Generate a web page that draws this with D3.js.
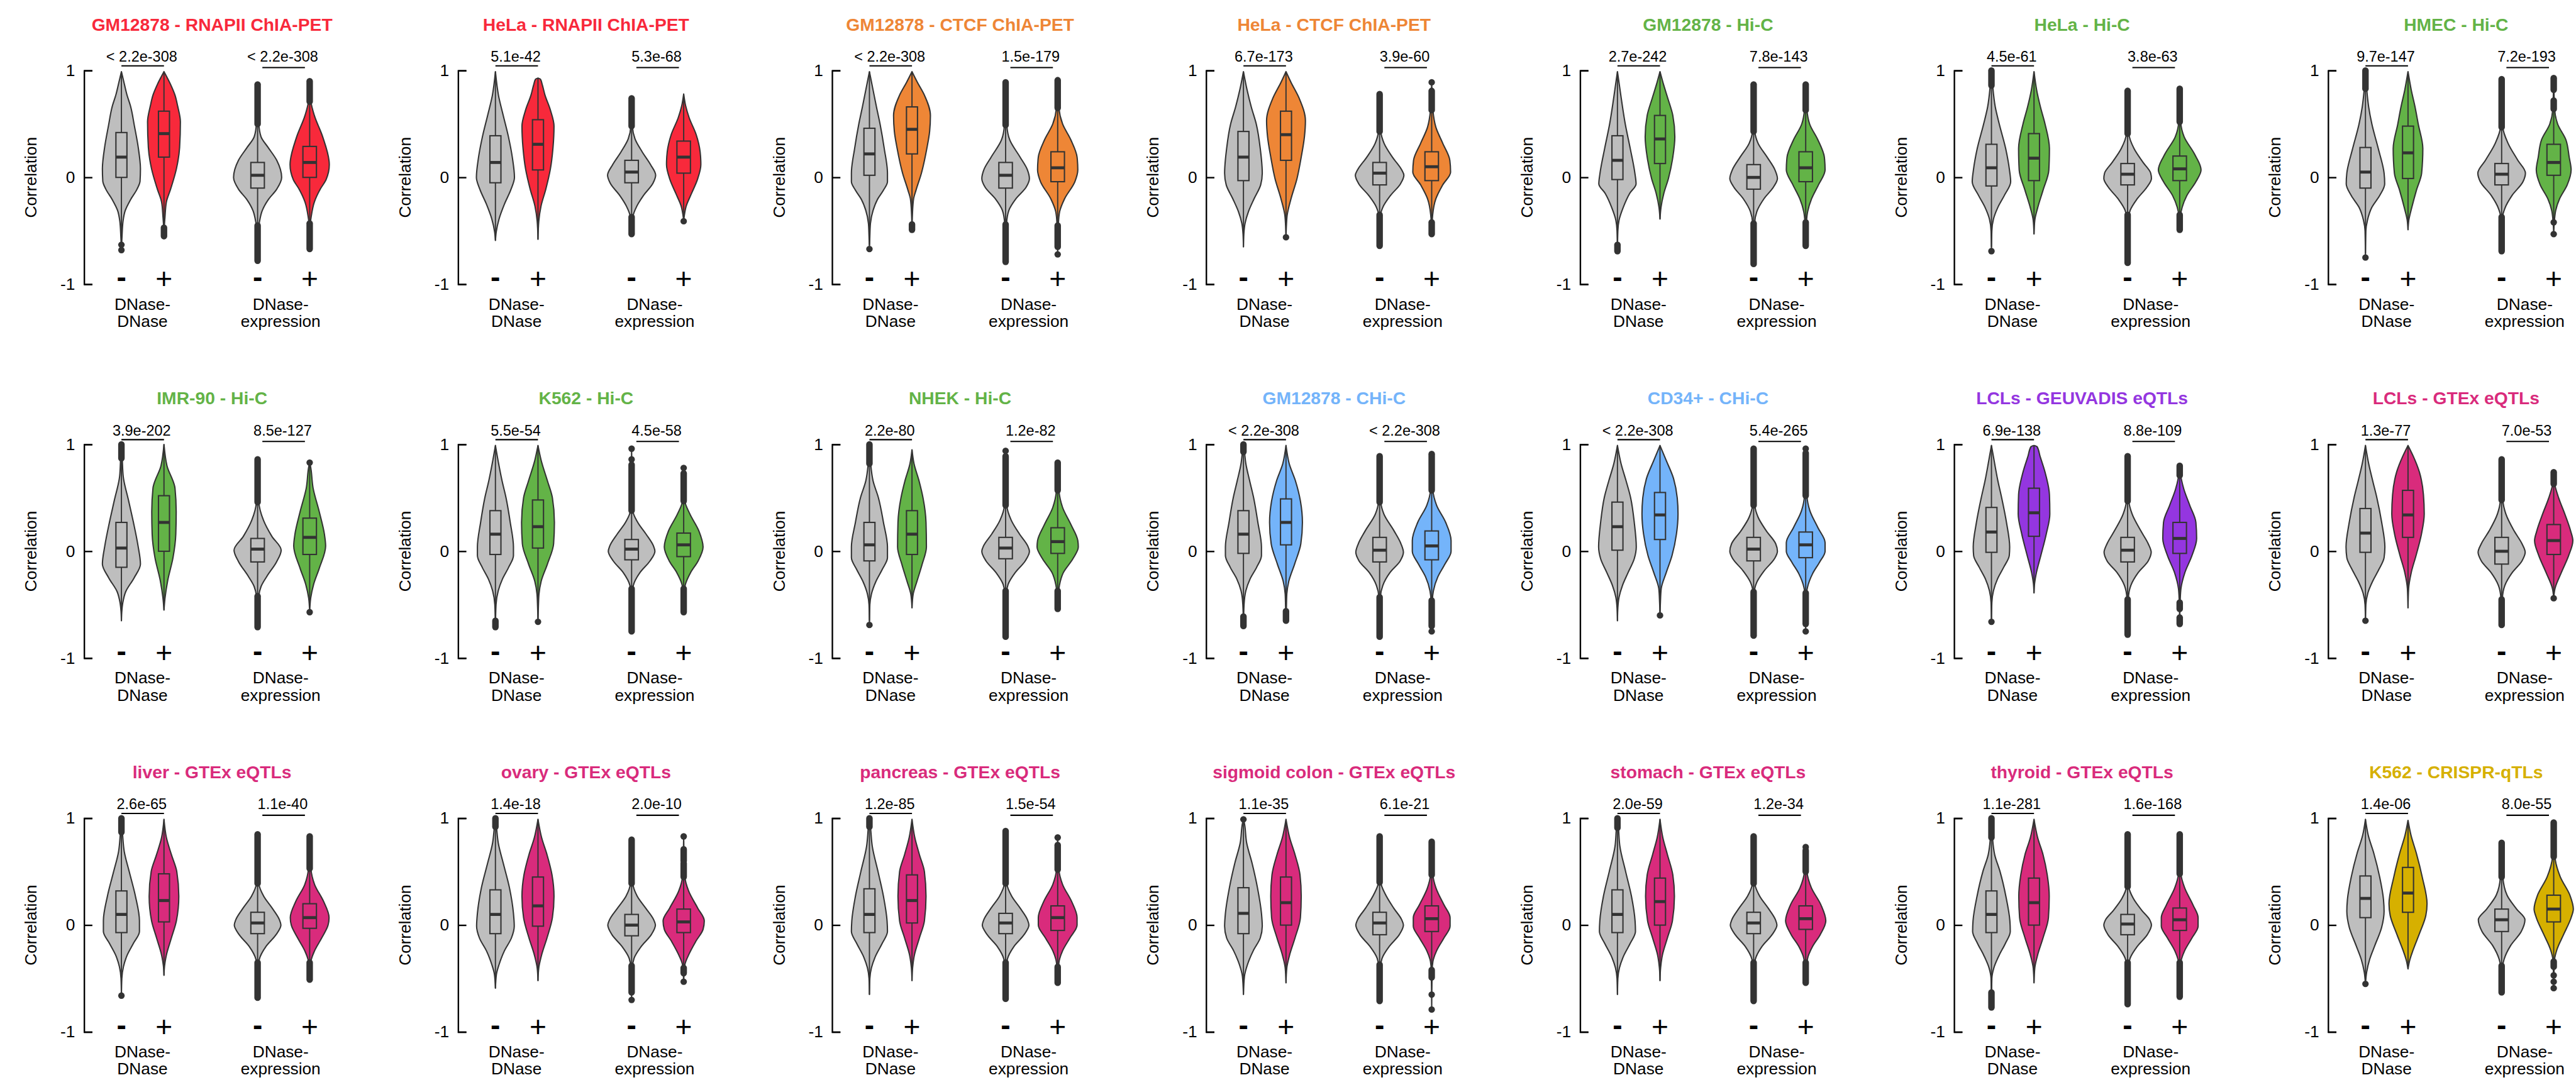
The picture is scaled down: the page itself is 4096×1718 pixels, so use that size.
<!DOCTYPE html>
<html>
<head>
<meta charset="utf-8">
<script src="https://cdn.jsdelivr.net/npm/d3@7"></script>
<style>
  html, body { margin: 0; padding: 0; background: #ffffff; }
  svg { display: block; }
  text { font-family: "Liberation Sans", Arial, Helvetica, sans-serif; }
</style>
</head>
<body>
<svg id="chart" width="4096" height="1718" viewBox="0 0 5144 2158"></svg>
<script>
// ---------------------------------------------------------------------------
// Data
// ---------------------------------------------------------------------------
const panelTitles = [
  "GM12878 - RNAPII ChIA-PET", "HeLa - RNAPII ChIA-PET", "GM12878 - CTCF ChIA-PET",
  "HeLa - CTCF ChIA-PET", "GM12878 - Hi-C", "HeLa - Hi-C", "HMEC - Hi-C",
  "IMR-90 - Hi-C", "K562 - Hi-C", "NHEK - Hi-C", "GM12878 - CHi-C", "CD34+ - CHi-C",
  "LCLs - GEUVADIS eQTLs", "LCLs - GTEx eQTLs",
  "liver - GTEx eQTLs", "ovary - GTEx eQTLs", "pancreas - GTEx eQTLs",
  "sigmoid colon - GTEx eQTLs", "stomach - GTEx eQTLs", "thyroid - GTEx eQTLs",
  "K562 - CRISPR-qTLs"
];
const panelAssay = [
  "rnapii", "rnapii", "ctcf", "ctcf", "hic", "hic", "hic",
  "hic", "hic", "hic", "chic", "chic", "geuvadis", "gtex",
  "gtex", "gtex", "gtex", "gtex", "gtex", "gtex", "crispr"
];
const pairGroups = ["DNase-DNase", "DNase-expression"];
const groupLabelLines = [["DNase-", "DNase"], ["DNase-", "expression"]];
const linkStates = ["-", "+"];
const yTicks = [-1, 0, 1];

const pValueDD = ["< 2.2e-308", "5.1e-42", "< 2.2e-308", "6.7e-173", "2.7e-242", "4.5e-61", "9.7e-147",
  "3.9e-202", "5.5e-54", "2.2e-80", "< 2.2e-308", "< 2.2e-308", "6.9e-138", "1.3e-77",
  "2.6e-65", "1.4e-18", "1.2e-85", "1.1e-35", "2.0e-59", "1.1e-281", "1.4e-06"];
const pValueDE = ["< 2.2e-308", "5.3e-68", "1.5e-179", "3.9e-60", "7.8e-143", "3.8e-63", "7.2e-193",
  "8.5e-127", "4.5e-58", "1.2e-82", "< 2.2e-308", "5.4e-265", "8.8e-109", "7.0e-53",
  "1.1e-40", "2.0e-10", "1.5e-54", "6.1e-21", "1.2e-34", "1.6e-168", "8.0e-55"];

// Violin profiles: [correlation, relative density], from the top tip to the bottom tip.
const densityDDneg = [
  [[0.99,0],[0.87,0.15],[0.77,0.28],[0.67,0.45],[0.48,0.65],[0.28,0.84],[0.08,0.95],[-0.035,0.93],[-0.11,0.78],[-0.21,0.45],[-0.31,0.19],[-0.41,0.08],[-0.55,0.03],[-0.68,0]],
  [[0.99,0],[0.77,0.15],[0.58,0.39],[0.38,0.65],[0.18,0.85],[0,0.95],[-0.11,0.78],[-0.25,0.45],[-0.39,0.18],[-0.51,0.04],[-0.59,0]],
  [[0.99,0],[0.82,0.18],[0.66,0.35],[0.5,0.53],[0.27,0.74],[0.04,0.9],[-0.04,0.9],[-0.12,0.7],[-0.21,0.39],[-0.31,0.18],[-0.43,0.05],[-0.55,0.02],[-0.67,0]],
  [[0.99,0],[0.82,0.18],[0.66,0.39],[0.5,0.64],[0.27,0.84],[0.04,0.94],[-0.07,0.86],[-0.2,0.53],[-0.32,0.25],[-0.43,0.08],[-0.53,0.02],[-0.65,0]],
  [[0.99,0],[0.74,0.19],[0.5,0.39],[0.27,0.64],[0.04,0.87],[-0.06,0.93],[-0.15,0.61],[-0.28,0.29],[-0.4,0.08],[-0.5,0.02],[-0.69,0]],
  [[1,0],[0.86,0.06],[0.66,0.19],[0.5,0.39],[0.27,0.71],[0.07,0.9],[-0.04,0.96],[-0.17,0.64],[-0.28,0.32],[-0.39,0.1],[-0.5,0.02],[-0.69,0]],
  [[1,0],[0.83,0.06],[0.66,0.16],[0.5,0.32],[0.27,0.64],[0.04,0.93],[-0.06,0.96],[-0.17,0.71],[-0.28,0.32],[-0.4,0.1],[-0.5,0.02],[-0.75,0]],
  [[1,0],[0.87,0.04],[0.7,0.09],[0.48,0.35],[0.27,0.6],[0.05,0.83],[-0.12,0.95],[-0.25,0.63],[-0.38,0.21],[-0.48,0.07],[-0.56,0.02],[-0.65,0]],
  [[0.99,0],[0.82,0.16],[0.66,0.33],[0.5,0.53],[0.27,0.74],[0.04,0.9],[-0.04,0.9],[-0.15,0.66],[-0.26,0.35],[-0.37,0.14],[-0.5,0.03],[-0.71,0]],
  [[1,0],[0.82,0.06],[0.66,0.18],[0.5,0.45],[0.27,0.7],[0.04,0.9],[-0.06,0.9],[-0.17,0.64],[-0.28,0.33],[-0.4,0.1],[-0.5,0.02],[-0.69,0]],
  [[1,0],[0.93,0.05],[0.82,0.12],[0.66,0.31],[0.5,0.51],[0.27,0.72],[0.04,0.9],[-0.04,0.9],[-0.15,0.66],[-0.26,0.33],[-0.37,0.12],[-0.5,0.03],[-0.7,0]],
  [[0.99,0],[0.82,0.18],[0.66,0.43],[0.5,0.66],[0.27,0.84],[0.04,0.94],[-0.07,0.84],[-0.2,0.53],[-0.32,0.25],[-0.43,0.08],[-0.53,0.02],[-0.65,0]],
  [[0.99,0],[0.82,0.16],[0.66,0.32],[0.5,0.51],[0.27,0.75],[0.04,0.91],[-0.04,0.89],[-0.15,0.61],[-0.26,0.3],[-0.37,0.1],[-0.48,0.02],[-0.66,0]],
  [[0.99,0],[0.82,0.16],[0.66,0.36],[0.5,0.57],[0.27,0.81],[0.04,0.97],[-0.06,0.93],[-0.17,0.67],[-0.28,0.36],[-0.39,0.12],[-0.5,0.02],[-0.65,0]],
  [[1,0],[0.87,0.05],[0.69,0.14],[0.5,0.39],[0.27,0.7],[0.04,0.9],[-0.06,0.9],[-0.17,0.6],[-0.28,0.29],[-0.39,0.1],[-0.5,0.02],[-0.66,0]],
  [[1,0],[0.92,0.05],[0.77,0.14],[0.58,0.39],[0.35,0.7],[0.11,0.9],[-0.01,0.94],[-0.12,0.8],[-0.24,0.45],[-0.37,0.18],[-0.46,0.05],[-0.59,0]],
  [[1,0],[0.92,0.05],[0.74,0.14],[0.5,0.43],[0.27,0.7],[0.04,0.88],[-0.06,0.9],[-0.17,0.64],[-0.28,0.33],[-0.4,0.1],[-0.5,0.02],[-0.65,0]],
  [[0.99,0],[0.96,0.04],[0.77,0.16],[0.58,0.43],[0.35,0.7],[0.11,0.9],[-0.01,0.94],[-0.12,0.84],[-0.24,0.49],[-0.37,0.2],[-0.48,0.05],[-0.65,0]],
  [[1,0],[0.91,0.05],[0.74,0.12],[0.5,0.41],[0.27,0.7],[0.04,0.88],[-0.06,0.9],[-0.17,0.64],[-0.28,0.33],[-0.4,0.1],[-0.5,0.02],[-0.65,0]],
  [[1,0],[0.82,0.05],[0.66,0.16],[0.5,0.43],[0.27,0.72],[0.04,0.92],[-0.06,0.94],[-0.17,0.7],[-0.28,0.39],[-0.4,0.12],[-0.5,0.02],[-0.77,0]],
  [[0.99,0],[0.84,0.14],[0.67,0.42],[0.45,0.71],[0.24,0.9],[0.13,0.93],[-0.02,0.81],[-0.19,0.47],[-0.32,0.21],[-0.44,0.06],[-0.55,0]]
];
const densityDDpos = [
  [[0.99,0],[0.87,0.33],[0.77,0.55],[0.67,0.68],[0.52,0.82],[0.28,0.78],[0.08,0.62],[-0.11,0.33],[-0.23,0.12],[-0.37,0.05],[-0.45,0.02],[-0.55,0]],
  [[0.93,0],[0.92,0.12],[0.87,0.21],[0.77,0.35],[0.63,0.62],[0.48,0.8],[0.28,0.75],[0.08,0.62],[-0.11,0.39],[-0.27,0.15],[-0.41,0.04],[-0.58,0]],
  [[0.99,0],[0.89,0.27],[0.77,0.62],[0.58,0.92],[0.43,0.88],[0.27,0.74],[0.04,0.47],[-0.12,0.2],[-0.2,0.08],[-0.35,0.02],[-0.49,0]],
  [[0.99,0],[0.89,0.25],[0.74,0.66],[0.53,0.97],[0.38,0.92],[0.19,0.76],[-0.01,0.55],[-0.2,0.25],[-0.35,0.06],[-0.45,0.02],[-0.56,0]],
  [[0.99,0],[0.88,0.16],[0.74,0.39],[0.58,0.64],[0.38,0.74],[0.19,0.64],[-0.01,0.42],[-0.15,0.19],[-0.28,0.05],[-0.39,0]],
  [[0.99,0],[0.82,0.13],[0.66,0.32],[0.5,0.55],[0.27,0.77],[0.07,0.74],[-0.12,0.45],[-0.28,0.19],[-0.4,0.04],[-0.53,0]],
  [[0.99,0],[0.82,0.16],[0.66,0.35],[0.5,0.51],[0.27,0.74],[0.04,0.68],[-0.12,0.42],[-0.28,0.19],[-0.4,0.04],[-0.49,0]],
  [[1,0],[0.8,0.15],[0.59,0.55],[0.37,0.61],[0.16,0.59],[-0.06,0.45],[-0.27,0.19],[-0.44,0.05],[-0.55,0]],
  [[0.99,0],[0.85,0.16],[0.66,0.47],[0.5,0.72],[0.27,0.82],[0.07,0.78],[-0.12,0.47],[-0.28,0.16],[-0.4,0.05],[-0.52,0.02],[-0.66,0]],
  [[0.95,0],[0.82,0.1],[0.66,0.35],[0.5,0.55],[0.27,0.7],[0.04,0.72],[-0.12,0.51],[-0.28,0.25],[-0.4,0.06],[-0.53,0]],
  [[0.99,0],[0.82,0.16],[0.66,0.47],[0.47,0.72],[0.27,0.82],[0.07,0.74],[-0.12,0.43],[-0.28,0.14],[-0.4,0.04],[-0.52,0.02],[-0.65,0]],
  [[0.99,0],[0.85,0.31],[0.69,0.66],[0.5,0.86],[0.35,0.9],[0.16,0.82],[-0.04,0.6],[-0.2,0.31],[-0.35,0.06],[-0.48,0.02],[-0.6,0]],
  [[0.99,0],[0.98,0.15],[0.89,0.3],[0.74,0.55],[0.53,0.77],[0.35,0.79],[0.16,0.61],[-0.04,0.34],[-0.2,0.12],[-0.3,0.03],[-0.39,0]],
  [[0.99,0],[0.89,0.26],[0.74,0.57],[0.53,0.77],[0.35,0.81],[0.16,0.67],[-0.04,0.4],[-0.2,0.16],[-0.35,0.03],[-0.53,0]],
  [[0.99,0],[0.82,0.12],[0.66,0.37],[0.5,0.64],[0.27,0.74],[0.04,0.62],[-0.12,0.37],[-0.28,0.12],[-0.38,0.03],[-0.47,0]],
  [[0.99,0],[0.82,0.18],[0.66,0.45],[0.47,0.7],[0.27,0.8],[0.07,0.72],[-0.12,0.45],[-0.28,0.18],[-0.4,0.04],[-0.52,0]],
  [[0.99,0],[0.82,0.14],[0.66,0.37],[0.5,0.62],[0.27,0.7],[0.04,0.62],[-0.12,0.37],[-0.28,0.12],[-0.4,0.03],[-0.52,0]],
  [[0.99,0],[0.82,0.18],[0.66,0.45],[0.47,0.7],[0.27,0.76],[0.07,0.72],[-0.12,0.45],[-0.28,0.18],[-0.4,0.04],[-0.54,0]],
  [[0.99,0],[0.82,0.14],[0.66,0.37],[0.47,0.64],[0.27,0.72],[0.04,0.62],[-0.12,0.37],[-0.28,0.12],[-0.4,0.03],[-0.52,0]],
  [[0.99,0],[0.82,0.18],[0.66,0.45],[0.47,0.66],[0.27,0.76],[0.07,0.72],[-0.12,0.45],[-0.28,0.18],[-0.4,0.04],[-0.54,0]],
  [[0.98,0],[0.84,0.15],[0.67,0.42],[0.45,0.71],[0.2,0.95],[0.09,0.89],[-0.08,0.57],[-0.23,0.26],[-0.34,0.07],[-0.41,0]]
];
const densityDEneg = [
  [[0.87,0],[0.5,0.05],[0.38,0.14],[0.28,0.43],[0.16,0.78],[0,0.98],[-0.11,0.78],[-0.21,0.43],[-0.31,0.19],[-0.41,0.08],[-0.5,0.03],[-0.78,0]],
  [[0.74,0],[0.48,0.03],[0.36,0.14],[0.24,0.43],[0.12,0.77],[0.02,0.98],[-0.055,0.87],[-0.17,0.48],[-0.27,0.21],[-0.37,0.05],[-0.53,0]],
  [[0.89,0],[0.49,0.05],[0.35,0.17],[0.19,0.59],[0.07,0.89],[-0.01,0.97],[-0.09,0.84],[-0.2,0.42],[-0.31,0.13],[-0.43,0.04],[-0.79,0]],
  [[0.78,0],[0.43,0.05],[0.32,0.18],[0.19,0.52],[0.07,0.9],[0.02,0.99],[-0.06,0.85],[-0.17,0.44],[-0.28,0.13],[-0.35,0.04],[-0.64,0]],
  [[0.87,0],[0.43,0.05],[0.32,0.18],[0.19,0.55],[0.07,0.87],[-0.01,0.97],[-0.09,0.81],[-0.2,0.42],[-0.32,0.13],[-0.43,0.04],[-0.81,0]],
  [[0.81,0],[0.41,0.05],[0.27,0.26],[0.14,0.63],[0.04,0.94],[-0.01,0.97],[-0.09,0.79],[-0.2,0.39],[-0.31,0.1],[-0.4,0.03],[-0.8,0]],
  [[0.92,0],[0.47,0.05],[0.32,0.26],[0.16,0.66],[0.04,0.97],[-0.04,0.87],[-0.17,0.42],[-0.29,0.13],[-0.38,0.03],[-0.69,0]],
  [[0.86,0],[0.46,0.05],[0.29,0.24],[0.14,0.58],[0.01,0.96],[-0.1,0.77],[-0.23,0.39],[-0.33,0.14],[-0.42,0.05],[-0.71,0]],
  [[0.96,0],[0.38,0.05],[0.27,0.25],[0.16,0.59],[0.05,0.89],[0,0.95],[-0.09,0.75],[-0.2,0.34],[-0.32,0.07],[-0.4,0.03],[-0.75,0]],
  [[0.94,0],[0.43,0.05],[0.29,0.23],[0.16,0.57],[0.05,0.9],[0,0.97],[-0.09,0.8],[-0.2,0.39],[-0.31,0.1],[-0.4,0.03],[-0.8,0]],
  [[0.89,0],[0.46,0.05],[0.35,0.17],[0.19,0.59],[0.07,0.87],[-0.01,0.97],[-0.09,0.84],[-0.2,0.42],[-0.32,0.13],[-0.43,0.03],[-0.8,0]],
  [[0.96,0],[0.43,0.05],[0.32,0.18],[0.19,0.52],[0.07,0.9],[0,0.97],[-0.07,0.85],[-0.18,0.44],[-0.29,0.13],[-0.38,0.03],[-0.79,0]],
  [[0.89,0],[0.47,0.05],[0.35,0.18],[0.19,0.54],[0.07,0.84],[-0.01,0.96],[-0.09,0.84],[-0.2,0.43],[-0.32,0.13],[-0.44,0.03],[-0.78,0]],
  [[0.86,0],[0.48,0.05],[0.35,0.17],[0.19,0.51],[0.07,0.83],[-0.01,0.96],[-0.09,0.83],[-0.2,0.43],[-0.32,0.13],[-0.44,0.03],[-0.69,0]],
  [[0.85,0],[0.39,0.05],[0.27,0.25],[0.16,0.59],[0.05,0.89],[0,0.95],[-0.09,0.75],[-0.2,0.34],[-0.32,0.07],[-0.4,0.03],[-0.68,0]],
  [[0.8,0],[0.39,0.05],[0.27,0.23],[0.16,0.57],[0.05,0.9],[0,0.97],[-0.09,0.8],[-0.2,0.39],[-0.31,0.1],[-0.4,0.03],[-0.7,0]],
  [[0.88,0],[0.39,0.05],[0.27,0.25],[0.16,0.59],[0.05,0.89],[0,0.95],[-0.09,0.75],[-0.2,0.34],[-0.32,0.07],[-0.4,0.03],[-0.69,0]],
  [[0.83,0],[0.4,0.05],[0.29,0.23],[0.16,0.57],[0.05,0.9],[0,0.97],[-0.09,0.8],[-0.2,0.39],[-0.31,0.1],[-0.4,0.03],[-0.71,0]],
  [[0.83,0],[0.39,0.05],[0.27,0.25],[0.16,0.59],[0.05,0.89],[0,0.95],[-0.09,0.75],[-0.2,0.34],[-0.32,0.07],[-0.4,0.03],[-0.71,0]],
  [[0.85,0],[0.36,0.05],[0.25,0.23],[0.14,0.57],[0.05,0.9],[0,0.97],[-0.09,0.8],[-0.2,0.39],[-0.31,0.1],[-0.4,0.03],[-0.74,0]],
  [[0.77,0],[0.45,0.05],[0.28,0.22],[0.15,0.61],[0.05,0.95],[-0.06,0.8],[-0.19,0.37],[-0.32,0.1],[-0.4,0.03],[-0.63,0]]
];
const densityDEpos = [
  [[0.9,0],[0.71,0.05],[0.58,0.19],[0.38,0.53],[0.12,0.8],[-0.02,0.67],[-0.11,0.43],[-0.23,0.19],[-0.37,0.06],[-0.45,0.02],[-0.67,0]],
  [[0.78,0],[0.67,0.08],[0.56,0.22],[0.4,0.51],[0.24,0.67],[0.12,0.7],[-0.02,0.56],[-0.15,0.32],[-0.27,0.1],[-0.35,0.03],[-0.41,0]],
  [[0.91,0],[0.65,0.05],[0.5,0.2],[0.35,0.54],[0.19,0.79],[0.07,0.82],[-0.04,0.7],[-0.2,0.28],[-0.32,0.08],[-0.43,0.03],[-0.72,0]],
  [[0.89,0],[0.63,0.05],[0.47,0.17],[0.32,0.45],[0.16,0.74],[0.05,0.77],[-0.07,0.45],[-0.2,0.17],[-0.35,0.04],[-0.53,0]],
  [[0.87,0],[0.63,0.05],[0.5,0.16],[0.35,0.5],[0.19,0.76],[0.07,0.79],[-0.07,0.52],[-0.2,0.24],[-0.32,0.08],[-0.42,0.03],[-0.64,0]],
  [[0.83,0],[0.52,0.04],[0.38,0.18],[0.22,0.6],[0.07,0.87],[-0.04,0.66],[-0.17,0.29],[-0.28,0.1],[-0.36,0.03],[-0.49,0]],
  [[0.93,0],[0.63,0.04],[0.5,0.16],[0.35,0.5],[0.19,0.63],[0.07,0.71],[-0.07,0.55],[-0.2,0.24],[-0.31,0.08],[-0.4,0.03],[-0.53,0]],
  [[0.83,0],[0.8,0.03],[0.59,0.14],[0.37,0.39],[0.16,0.6],[0.05,0.65],[-0.16,0.39],[-0.31,0.16],[-0.44,0.04],[-0.57,0]],
  [[0.78,0],[0.47,0.05],[0.35,0.25],[0.19,0.62],[0.04,0.79],[-0.09,0.59],[-0.2,0.28],[-0.31,0.07],[-0.38,0.03],[-0.57,0]],
  [[0.83,0],[0.57,0.05],[0.41,0.2],[0.25,0.54],[0.1,0.82],[0.04,0.84],[-0.07,0.62],[-0.2,0.23],[-0.32,0.07],[-0.4,0.03],[-0.54,0]],
  [[0.91,0],[0.57,0.05],[0.43,0.2],[0.27,0.57],[0.1,0.79],[0,0.79],[-0.12,0.54],[-0.24,0.25],[-0.37,0.07],[-0.45,0.03],[-0.75,0]],
  [[0.96,0],[0.52,0.05],[0.38,0.17],[0.22,0.5],[0.08,0.79],[0,0.79],[-0.1,0.57],[-0.21,0.28],[-0.34,0.07],[-0.4,0.03],[-0.75,0]],
  [[0.8,0],[0.71,0.04],[0.58,0.17],[0.43,0.41],[0.27,0.66],[0.12,0.69],[-0.04,0.5],[-0.2,0.21],[-0.35,0.05],[-0.46,0.02],[-0.68,0]],
  [[0.74,0],[0.63,0.04],[0.5,0.2],[0.35,0.45],[0.19,0.69],[0.1,0.78],[-0.04,0.61],[-0.2,0.31],[-0.35,0.05],[-0.44,0]],
  [[0.83,0],[0.53,0.05],[0.38,0.2],[0.22,0.57],[0.07,0.79],[0,0.75],[-0.12,0.49],[-0.24,0.2],[-0.34,0.05],[-0.51,0]],
  [[0.83,0],[0.45,0.05],[0.32,0.2],[0.16,0.57],[0.04,0.84],[-0.04,0.79],[-0.15,0.5],[-0.28,0.2],[-0.37,0.05],[-0.53,0]],
  [[0.82,0],[0.52,0.05],[0.38,0.2],[0.22,0.57],[0.07,0.79],[0,0.79],[-0.12,0.5],[-0.24,0.2],[-0.35,0.05],[-0.54,0]],
  [[0.78,0],[0.47,0.05],[0.35,0.17],[0.19,0.5],[0.07,0.75],[-0.01,0.75],[-0.12,0.5],[-0.24,0.2],[-0.34,0.05],[-0.42,0.02],[-0.79,0]],
  [[0.73,0],[0.5,0.05],[0.35,0.23],[0.19,0.62],[0.04,0.82],[-0.09,0.59],[-0.2,0.28],[-0.32,0.07],[-0.54,0]],
  [[0.85,0],[0.48,0.05],[0.35,0.2],[0.19,0.54],[0.07,0.75],[-0.01,0.75],[-0.12,0.5],[-0.24,0.2],[-0.34,0.05],[-0.42,0.02],[-0.67,0]],
  [[0.96,0],[0.64,0.05],[0.45,0.27],[0.28,0.66],[0.15,0.8],[0.07,0.71],[-0.08,0.42],[-0.23,0.13],[-0.33,0.03],[-0.59,0]]
];

// Box statistics: [lower whisker, Q1, median, Q3, upper whisker]
const boxDDneg = [
  [-0.62,0.0,0.19,0.42,0.99], [-0.59,-0.05,0.14,0.39,0.99], [-0.63,0.02,0.22,0.46,0.99],
  [-0.65,-0.03,0.19,0.43,0.99], [-0.62,-0.02,0.16,0.39,0.99], [-0.65,-0.08,0.09,0.31,0.86],
  [-0.71,-0.10,0.05,0.28,0.83], [-0.65,-0.15,0.03,0.27,0.87], [-0.64,-0.03,0.16,0.38,0.99],
  [-0.65,-0.09,0.06,0.27,0.82], [-0.6,-0.02,0.16,0.38,0.93], [-0.65,0.01,0.23,0.46,0.99],
  [-0.63,-0.01,0.18,0.41,0.99], [-0.62,-0.01,0.17,0.40,0.99], [-0.63,-0.07,0.10,0.32,0.87],
  [-0.59,-0.08,0.10,0.33,0.92], [-0.65,-0.07,0.10,0.34,0.92], [-0.65,-0.08,0.11,0.35,0.96],
  [-0.65,-0.07,0.10,0.33,0.91], [-0.62,-0.07,0.10,0.32,0.82], [-0.52,0.07,0.25,0.46,0.99]
];
const boxDDpos = [
  [-0.45,0.19,0.41,0.62,0.99], [-0.58,0.07,0.31,0.54,0.93], [-0.42,0.22,0.45,0.66,0.99],
  [-0.54,0.16,0.40,0.62,0.99], [-0.39,0.13,0.36,0.58,0.99], [-0.53,-0.03,0.18,0.41,0.99],
  [-0.49,-0.01,0.23,0.48,0.99], [-0.55,0.0,0.27,0.52,1.0], [-0.63,0.03,0.23,0.48,0.99],
  [-0.53,-0.03,0.16,0.38,0.95], [-0.55,0.06,0.27,0.49,0.99], [-0.58,0.11,0.34,0.55,0.99],
  [-0.39,0.14,0.36,0.59,0.99], [-0.53,0.13,0.34,0.57,0.99], [-0.47,0.03,0.23,0.48,0.99],
  [-0.52,-0.01,0.18,0.45,0.99], [-0.52,0.02,0.23,0.47,0.99], [-0.54,0.0,0.21,0.45,0.99],
  [-0.52,0.0,0.22,0.44,0.99], [-0.54,0.0,0.21,0.44,0.99], [-0.41,0.12,0.30,0.54,0.98]
];
const boxDEneg = [
  [-0.45,-0.10,0.02,0.14,0.50], [-0.37,-0.05,0.05,0.16,0.48], [-0.43,-0.10,0.02,0.14,0.49],
  [-0.35,-0.07,0.04,0.14,0.43], [-0.43,-0.11,0.0,0.12,0.43], [-0.35,-0.07,0.03,0.13,0.41],
  [-0.37,-0.07,0.03,0.13,0.47], [-0.42,-0.10,0.02,0.12,0.46], [-0.35,-0.08,0.02,0.11,0.38],
  [-0.37,-0.07,0.03,0.13,0.43], [-0.43,-0.10,0.01,0.13,0.46], [-0.38,-0.09,0.02,0.13,0.43],
  [-0.44,-0.10,0.01,0.13,0.47], [-0.44,-0.12,0.0,0.13,0.48], [-0.35,-0.08,0.02,0.12,0.39],
  [-0.37,-0.10,0.0,0.10,0.39], [-0.35,-0.08,0.02,0.11,0.39], [-0.37,-0.09,0.02,0.12,0.40],
  [-0.35,-0.08,0.02,0.12,0.39], [-0.35,-0.09,0.01,0.10,0.36], [-0.38,-0.06,0.05,0.15,0.45]
];
const boxDEpos = [
  [-0.43,0.0,0.14,0.29,0.71], [-0.36,0.04,0.19,0.34,0.78], [-0.44,-0.04,0.09,0.24,0.65],
  [-0.42,-0.03,0.10,0.24,0.63], [-0.42,-0.04,0.09,0.24,0.63], [-0.35,-0.03,0.08,0.20,0.52],
  [-0.40,0.02,0.14,0.31,0.63], [-0.50,-0.03,0.13,0.31,0.80], [-0.35,-0.05,0.06,0.17,0.47],
  [-0.37,-0.02,0.09,0.22,0.57], [-0.45,-0.08,0.05,0.19,0.57], [-0.38,-0.06,0.06,0.18,0.52],
  [-0.46,-0.02,0.12,0.27,0.71], [-0.40,-0.03,0.10,0.25,0.63], [-0.35,-0.03,0.07,0.20,0.53],
  [-0.38,-0.07,0.03,0.15,0.45], [-0.38,-0.05,0.07,0.18,0.52], [-0.39,-0.06,0.06,0.18,0.47],
  [-0.35,-0.04,0.06,0.18,0.50], [-0.35,-0.05,0.05,0.16,0.48], [-0.33,0.03,0.15,0.28,0.64]
];

// Outlying correlations: [low, high] runs of overlapping points (a single point when equal)
const outliersDDneg = [
  [[-0.68,-0.68],[-0.63,-0.63]], [], [[-0.67,-0.67]], [], [[-0.69,-0.63]],
  [[0.86,1.0],[-0.69,-0.69]], [[0.83,1.0],[-0.75,-0.75]], [[0.87,1.0]], [[-0.71,-0.65]],
  [[0.82,1.0],[-0.69,-0.69]], [[0.93,1.0],[-0.7,-0.61]], [], [[-0.66,-0.66]], [[-0.65,-0.65]],
  [[0.87,1.0],[-0.66,-0.66]], [[0.92,1.0]], [[0.92,1.0]], [[0.99,0.99]], [[0.91,1.0]],
  [[0.82,1.0],[-0.77,-0.63]], [[-0.55,-0.55]]
];
const outliersDDpos = [
  [[-0.55,-0.47]], [], [[-0.49,-0.44]], [[-0.56,-0.56]], [], [], [], [], [[-0.66,-0.66]], [],
  [[-0.65,-0.56]], [[-0.6,-0.6]], [], [], [], [], [], [], [], [], []
];
const outliersDEneg = [
  [[0.5,0.87],[-0.78,-0.45]], [[0.48,0.74],[-0.53,-0.37]], [[0.49,0.89],[-0.79,-0.44]],
  [[0.43,0.78],[-0.64,-0.35]], [[0.43,0.87],[-0.81,-0.43]], [[0.41,0.81],[-0.8,-0.35]],
  [[0.47,0.92],[-0.69,-0.37]], [[0.46,0.86],[-0.71,-0.42]],
  [[0.96,0.96],[0.86,0.86],[0.38,0.81],[-0.75,-0.35]], [[0.94,0.94],[0.43,0.89],[-0.8,-0.37]],
  [[0.46,0.89],[-0.8,-0.43]], [[0.43,0.96],[-0.79,-0.38]], [[0.47,0.89],[-0.78,-0.45]],
  [[0.48,0.86],[-0.69,-0.45]], [[0.39,0.85],[-0.68,-0.35]], [[0.39,0.8],[-0.63,-0.38],[-0.7,-0.7]],
  [[0.39,0.88],[-0.69,-0.35]], [[0.4,0.83],[-0.71,-0.37]], [[0.39,0.83],[-0.71,-0.35]],
  [[0.36,0.85],[-0.74,-0.35]], [[0.45,0.77],[-0.63,-0.38]]
];
const outliersDEpos = [
  [[0.71,0.9],[-0.67,-0.43]], [[-0.41,-0.41]], [[0.65,0.91],[-0.65,-0.45],[-0.72,-0.72]],
  [[0.89,0.89],[0.63,0.81],[-0.53,-0.42]], [[0.63,0.87],[-0.64,-0.42]], [[0.52,0.83],[-0.49,-0.35]],
  [[0.82,0.93],[0.64,0.72],[-0.42,-0.42],[-0.53,-0.53]], [[0.83,0.83],[-0.57,-0.57]],
  [[0.78,0.78],[0.47,0.73],[-0.57,-0.35]], [[0.57,0.83],[-0.54,-0.37]],
  [[0.57,0.91],[-0.7,-0.46],[-0.75,-0.75]], [[0.96,0.96],[0.52,0.92],[-0.68,-0.39],[-0.75,-0.75]],
  [[0.71,0.8],[-0.54,-0.48],[-0.68,-0.62]], [[0.63,0.74],[-0.44,-0.44]], [[0.53,0.83],[-0.51,-0.35]],
  [[0.83,0.83],[0.6,0.71],[0.45,0.58],[-0.45,-0.4],[-0.53,-0.53]], [[0.82,0.82],[0.52,0.75],[-0.54,-0.39]],
  [[0.47,0.78],[-0.49,-0.42],[-0.65,-0.65],[-0.79,-0.79]], [[0.73,0.73],[0.5,0.7],[-0.54,-0.35]],
  [[0.48,0.85],[-0.67,-0.35]], [[0.64,0.96],[-0.39,-0.34],[-0.47,-0.47],[-0.53,-0.53],[-0.59,-0.59]]
];

// ---------------------------------------------------------------------------
// Styles and layout
// ---------------------------------------------------------------------------
const assayColor = {
  rnapii: "#F8293B", ctcf: "#EE8636", hic: "#63B347", chic: "#74B4FA",
  geuvadis: "#9436E0", gtex: "#D92B7C", crispr: "#D6B000"
};
const NEG_FILL = "#BEBEBE";
const INK = "#333333";
const FONT = "'Liberation Sans', Arial, Helvetica, sans-serif";

const COLS = 7;
const PITCH = 747;                 // panel spacing, both directions
const AXIS_X = 167.5;
const Y_TOP = 141, Y_BOTTOM = 568;
const TITLE_X = 423, TITLE_Y = 61;

// per comparison group: pair centre, half distance between the two violins,
// violin half-width at density 1, box half-width, label centre, bracket height
const groupCentre = d3.scaleOrdinal().domain(pairGroups).range([284.5, 566]);
const groupSpread = d3.scaleOrdinal().domain(pairGroups).range([42.5, 52]);
const groupWidth  = d3.scaleOrdinal().domain(pairGroups).range([40, 49]);
const groupBoxHalf = d3.scaleOrdinal().domain(pairGroups).range([11, 13.5]);
const groupLabelX = d3.scaleOrdinal().domain(pairGroups).range([284, 560]);
const bracketY = d3.scaleOrdinal().domain(pairGroups).range([131.5, 135]);
const stateOffset = d3.scaleOrdinal().domain(linkStates).range([-1, 1]);

const y = d3.scaleLinear().domain([-1, 1]).range([Y_BOTTOM, Y_TOP]);

const series = [
  { group: pairGroups[0], state: "-", density: densityDDneg, box: boxDDneg, outliers: outliersDDneg },
  { group: pairGroups[0], state: "+", density: densityDDpos, box: boxDDpos, outliers: outliersDDpos },
  { group: pairGroups[1], state: "-", density: densityDEneg, box: boxDEneg, outliers: outliersDEneg },
  { group: pairGroups[1], state: "+", density: densityDEpos, box: boxDEpos, outliers: outliersDEpos }
];
const pValues = { [pairGroups[0]]: pValueDD, [pairGroups[1]]: pValueDE };

const svg = d3.select("#chart");
svg.append("rect").attr("width", 5144).attr("height", 2158).attr("fill", "#ffffff");

function drawViolin(g, cx, group, profile, stats, runs, fill) {
  const w = d3.scaleLinear().domain([0, 1]).range([0, groupWidth(group)]);
  const area = d3.area()
    .y(d => y(d[0]))
    .x0(d => cx - w(d[1]))
    .x1(d => cx + w(d[1]))
    .curve(d3.curveMonotoneY);

  g.append("path")
    .attr("d", area(profile))
    .attr("fill", fill)
    .attr("stroke", INK)
    .attr("stroke-width", 2.6)
    .attr("stroke-linejoin", "round");

  const [lo, q1, med, q3, hi] = stats;
  const bh = groupBoxHalf(group);
  g.append("line")
    .attr("x1", cx).attr("x2", cx)
    .attr("y1", y(lo)).attr("y2", y(hi))
    .attr("stroke", INK).attr("stroke-width", 2.4);
  g.append("rect")
    .attr("x", cx - bh).attr("y", y(q3))
    .attr("width", 2 * bh).attr("height", y(q1) - y(q3))
    .attr("fill", fill).attr("stroke", INK).attr("stroke-width", 2.6);
  g.append("line")
    .attr("x1", cx - bh).attr("x2", cx + bh)
    .attr("y1", y(med)).attr("y2", y(med))
    .attr("stroke", INK).attr("stroke-width", 6);

  const r = 6.5;
  g.selectAll(null).data(runs).enter().append("rect")
    .attr("x", cx - r)
    .attr("y", d => y(d[1]) - r)
    .attr("width", 2 * r)
    .attr("height", d => y(d[0]) - y(d[1]) + 2 * r)
    .attr("rx", r).attr("ry", r)
    .attr("fill", INK);
}

panelTitles.forEach((title, i) => {
  const col = i % COLS, row = Math.floor(i / COLS);
  const g = svg.append("g").attr("transform", `translate(${col * PITCH},${row * PITCH})`);
  const colour = assayColor[panelAssay[i]];

  // title
  g.append("text")
    .attr("x", TITLE_X).attr("y", TITLE_Y)
    .attr("text-anchor", "middle")
    .attr("font-family", FONT).attr("font-weight", "bold").attr("font-size", 35.5)
    .attr("fill", colour)
    .text(title);

  // y axis
  const axis = d3.axisLeft(y).tickValues(yTicks).tickSize(-16.5).tickPadding(18).tickFormat(d => String(d));
  const ax = g.append("g").attr("transform", `translate(${AXIS_X},0)`).call(axis);
  ax.selectAll("path, line").attr("stroke", "#000").attr("stroke-width", 3);
  ax.selectAll("text").attr("font-family", FONT).attr("font-size", 33).attr("fill", "#000");

  g.append("text")
    .attr("transform", `translate(61,${(Y_TOP + Y_BOTTOM) / 2}) rotate(-90)`)
    .attr("text-anchor", "middle").attr("dy", "0.35em")
    .attr("font-family", FONT).attr("font-size", 33).attr("fill", "#000")
    .text("Correlation");

  // violins with boxes
  series.forEach(s => {
    const cx = groupCentre(s.group) + stateOffset(s.state) * groupSpread(s.group);
    const fill = s.state === "-" ? NEG_FILL : colour;
    drawViolin(g, cx, s.group, s.density[i], s.box[i], s.outliers[i], fill);

    g.append("text")
      .attr("x", cx).attr("y", s.state === "-" ? 573 : 577)
      .attr("text-anchor", "middle")
      .attr("font-family", FONT).attr("font-size", 58)
      .attr("font-weight", s.state === "-" ? "bold" : "normal")
      .attr("fill", "#000")
      .text(s.state);
  });

  // group labels, significance brackets and p-values
  pairGroups.forEach((grp, gi) => {
    const c = groupCentre(grp);
    g.append("line")
      .attr("x1", c - 42.5).attr("x2", c + 42.5)
      .attr("y1", bracketY(grp)).attr("y2", bracketY(grp))
      .attr("stroke", "#000").attr("stroke-width", 2.6);
    g.append("text")
      .attr("x", c - 2).attr("y", 123)
      .attr("text-anchor", "middle")
      .attr("font-family", FONT).attr("font-size", 29.5).attr("fill", "#000")
      .text(pValues[grp][i]);

    const lab = g.append("text")
      .attr("text-anchor", "middle")
      .attr("font-family", FONT).attr("font-size", 33).attr("fill", "#000");
    groupLabelLines[gi].forEach((line, li) => {
      lab.append("tspan").attr("x", groupLabelX(grp)).attr("y", 619 + li * 34).text(line);
    });
  });
});
</script>
</body>
</html>
